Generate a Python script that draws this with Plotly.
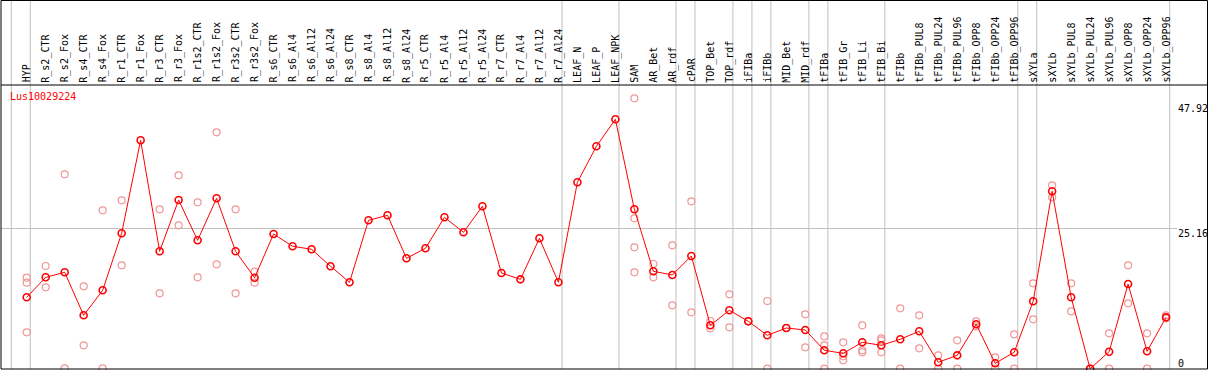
import plotly.graph_objects as go

categories = ["HYP", "R_s2_CTR", "R_s2_Fox", "R_s4_CTR", "R_s4_Fox", "R_r1_CTR", "R_r1_Fox",
              "R_r3_CTR", "R_r3_Fox", "R_r1s2_CTR", "R_r1s2_Fox", "R_r3s2_CTR", "R_r3s2_Fox",
              "R_s6_CTR", "R_s6_Al4", "R_s6_Al12", "R_s6_Al24", "R_s8_CTR", "R_s8_Al4", "R_s8_Al12",
              "R_s8_Al24", "R_r5_CTR", "R_r5_Al4", "R_r5_Al12", "R_r5_Al24", "R_r7_CTR", "R_r7_Al4",
              "R_r7_Al12", "R_r7_Al24", "LEAF_N", "LEAF_P", "LEAF_NPK", "SAM", "AR_Bet", "AR_rdf",
              "cPAR", "TOP_Bet", "TOP_rdf", "iFIBa", "iFIBb", "MID_Bet", "MID_rdf", "tFIBa",
              "tFIB_Gr", "tFIB_Li", "tFIB_Bi", "tFIBb", "tFIBb_PUL8", "tFIBb_PUL24", "tFIBb_PUL96",
              "tFIBb_OPP8", "tFIBb_OPP24", "tFIBb_OPP96", "sXYLa", "sXYLb", "sXYLb_PUL8",
              "sXYLb_PUL24", "sXYLb_PUL96", "sXYLb_OPP8", "sXYLb_OPP24", "sXYLb_OPP96"]

means = [12.81, 16.40, 17.30, 9.58, 14.07, 24.30, 40.99, 21.07, 30.28, 23.04, 30.58, 21.07, 16.33,
         24.17, 21.97, 21.43, 18.38, 15.51, 26.63, 27.53, 19.81, 21.61, 27.17, 24.48, 29.15, 17.18,
         16.04, 23.40, 15.51, 33.45, 39.91, 44.76, 28.61, 17.48, 16.82, 20.23, 7.79, 10.48, 8.51,
         5.99, 7.30, 6.95, 3.30, 2.76, 4.74, 4.20, 5.28, 6.71, 1.15, 2.40, 7.97, 0.97, 2.94, 12.10,
         31.84, 12.81, 0.0, 3.05, 15.20, 3.12, 9.22]

replicates = [
    [16.33, 15.43, 6.53], [18.43, 14.61], [34.89, 0.07], [14.79, 4.20], [28.43, 0.07],
    [30.22, 18.56], [], [28.61, 13.53], [34.71, 25.74], [29.86, 16.40], [42.43, 18.74],
    [28.61, 13.53], [17.41, 15.43],
    [], [], [], [], [], [], [], [], [], [], [], [], [], [], [], [],
    [], [], [],
    [48.53, 26.99, 21.79, 17.30], [18.79, 16.40], [22.15, 11.38], [30.04, 10.12],
    [8.56, 7.25], [13.35, 7.43], [8.51, 8.51], [12.15, 0.0], [7.30, 7.30], [9.76, 3.84],
    [5.81, 4.20, 0.0], [4.74, 2.23, 1.51], [7.79, 3.30, 2.94], [5.46, 5.10, 2.94],
    [10.84, 0.0], [9.58, 3.66], [2.40, 0.0], [5.10, 0.0], [8.51, 7.61], [2.05, 0.0],
    [6.17, 0.0], [15.33, 8.87], [32.91, 30.76], [15.33, 10.30], [0.0, 0.0], [6.35, 0.0],
    [18.56, 11.74], [6.35, 0.0], [9.58, 9.04],
]

separator_after = [-1, 0, 28, 31, 34, 35, 37, 38, 39, 41, 42, 45, 52, 53, 60]
y_tick_values = [0, 25.16, 47.92]
y_tick_labels = ["0", "25.16", "47.92"]
gene_name = "Lus10029224"

W, H = 1209, 370
FONT = "DejaVu Sans Mono"

x_idx = list(range(len(categories)))
rep_x = [i for i, r in enumerate(replicates) for _ in r]
rep_y = [v for r in replicates for v in r]

# plot area = full figure
X0, X1 = -1.406, 62.26
Y_TOP = 368.7 / 5.572
Y_BOT = (368.7 - H) / 5.572


def py(px):
    return 1 - px / H


def px_x(px):
    return px / W


fig = go.Figure()

fig.add_trace(go.Scatter(
    x=rep_x, y=rep_y, mode="markers",
    marker=dict(symbol="circle-open", size=7, color="rgb(240,150,150)", line=dict(width=1.2)),
    showlegend=False, hoverinfo="skip"))

fig.add_trace(go.Scatter(
    x=x_idx, y=means, mode="lines+markers",
    line=dict(color="#ff0000", width=1),
    marker=dict(symbol="circle-open", size=7, color="#ff0000", line=dict(width=1.6)),
    showlegend=False))

shapes = []
for s in separator_after:
    xs = s + 0.19
    shapes.append(dict(type="line", xref="x", yref="paper", x0=xs, x1=xs, y0=py(369), y1=1,
                       line=dict(color="#c0c0c0", width=1), layer="below"))
shapes.append(dict(type="line", xref="paper", yref="y", x0=px_x(1), x1=px_x(1177),
                   y0=y_tick_values[1], y1=y_tick_values[1],
                   line=dict(color="#c0c0c0", width=1), layer="below"))
for ypx in [0.5, 85, 369]:
    shapes.append(dict(type="line", xref="paper", yref="paper", x0=px_x(1), x1=px_x(1207.5),
                       y0=py(ypx), y1=py(ypx), line=dict(color="black", width=1)))
for xpx in [1, 1207.5]:
    shapes.append(dict(type="line", xref="paper", yref="paper", x0=px_x(xpx), x1=px_x(xpx),
                       y0=py(369), y1=py(0.5), line=dict(color="black", width=1)))

annotations = []
for i, c in enumerate(categories):
    annotations.append(dict(x=i, y=py(84.5), xref="x", yref="paper", text=c, textangle=-90,
                            showarrow=False, xanchor="center", yanchor="bottom",
                            font=dict(family=FONT, size=10, color="black")))

tick_tops = {0: 356, 25.16: 226, 47.92: 101}
for v, lab in zip(y_tick_values, y_tick_labels):
    annotations.append(dict(x=px_x(1176), y=py(tick_tops[v]), xref="paper", yref="paper", text=lab,
                            showarrow=False, xanchor="left", yanchor="top",
                            font=dict(family=FONT, size=10, color="black")))

annotations.append(dict(x=px_x(8), y=py(96.5), xref="paper", yref="paper", text=gene_name,
                        showarrow=False, xanchor="left", yanchor="middle",
                        font=dict(family=FONT, size=10, color="#ff0000")))

fig.update_layout(
    width=W, height=H,
    margin=dict(l=0, r=0, t=0, b=0, autoexpand=False),
    paper_bgcolor="white", plot_bgcolor="white",
    xaxis=dict(range=[X0, X1], showgrid=False, zeroline=False, showticklabels=False,
               showline=False, ticks=""),
    yaxis=dict(range=[Y_BOT, Y_TOP], showgrid=False, zeroline=False, showticklabels=False,
               showline=False, ticks=""),
    shapes=shapes, annotations=annotations,
)

fig.write_html("out.html",
               config={"displayModeBar": False},
               post_script="document.body.style.margin='0';document.body.style.overflow='hidden';")
